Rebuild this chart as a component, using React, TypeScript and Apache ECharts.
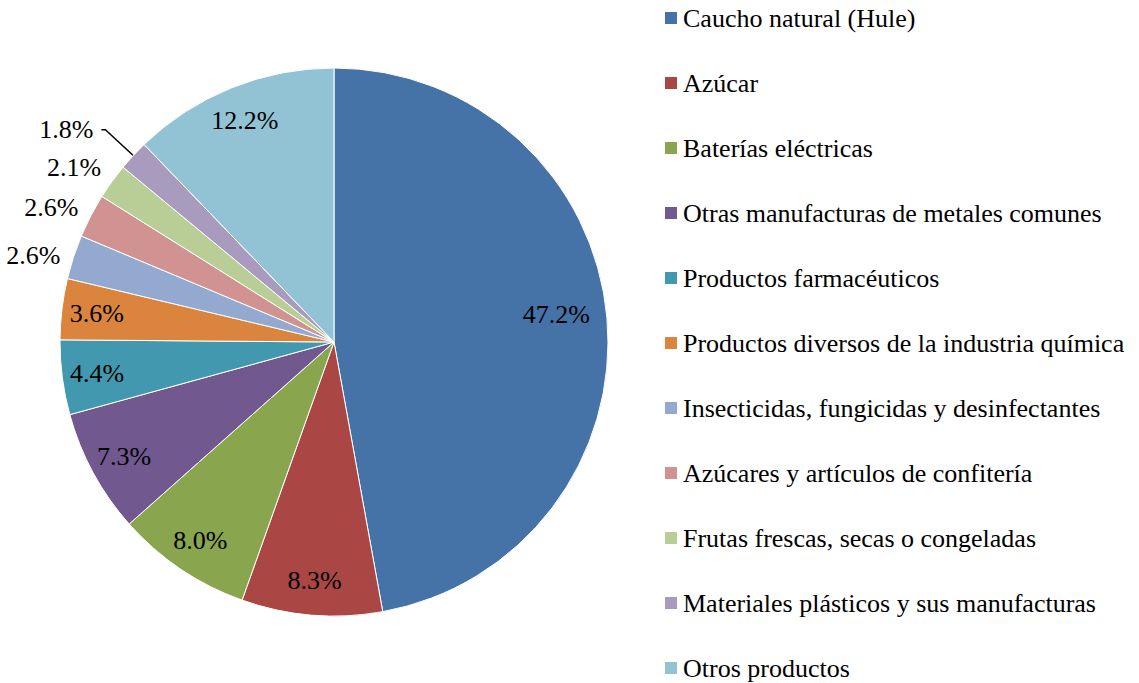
import React, { useEffect, useRef } from "react";
import * as echarts from "echarts";

const categories = [
  "Caucho natural (Hule)",
  "Azúcar",
  "Baterías eléctricas",
  "Otras manufacturas de metales comunes",
  "Productos farmacéuticos",
  "Productos diversos de la industria química",
  "Insecticidas, fungicidas y desinfectantes",
  "Azúcares y artículos de confitería",
  "Frutas frescas, secas o congeladas",
  "Materiales plásticos y sus manufacturas",
  "Otros productos",
];
const values = [47.2, 8.3, 8.0, 7.3, 4.4, 3.6, 2.6, 2.6, 2.1, 1.8, 12.2];
const colors = [
  "#4572A7", "#AA4643", "#89A54E", "#71588F", "#4198AF", "#DB843D",
  "#93A9CF", "#D19392", "#B9CD96", "#A99BBD", "#92C3D5",
];
// which label ring each slice's percentage is drawn on
const labelRing = ["inner", "mid", "mid", "mid", "mid", "mid", "outer", "outer", "outer", "line", "mid"];

const FONT = "Times New Roman";
const CX = 334;
const CY = 342;
const R = 274;

export default function App() {
  const ref = useRef<HTMLDivElement>(null);
  useEffect(() => {
    document.body.style.margin = "0";
    const chart = echarts.init(ref.current!, null, { renderer: "svg" });
    const fmt = (p: any) => Number(p.value).toFixed(1) + "%";
    const labelSeries = (ring: string, radius: number, start: number) => ({
      type: "pie",
      silent: true,
      center: [CX, CY],
      radius: [0, radius],
      startAngle: start,
      clockwise: true,
      itemStyle: { color: "transparent", borderWidth: 0 },
      emphasis: { disabled: true },
      labelLine: { show: false },
      data: categories.map((c, i) => ({
        name: c,
        value: values[i],
        label: {
          show: labelRing[i] === ring,
          position: "inside",
          formatter: fmt,
          fontFamily: FONT,
          fontSize: 26,
          color: "#000",
        },
      })),
    });
    chart.setOption({
      animation: false,
      backgroundColor: "#fff",
      color: colors,
      textStyle: { fontFamily: FONT },
      legend: {
        orient: "vertical",
        left: 663,
        top: 5,
        height: 678,
        padding: 0,
        icon: "rect",
        itemWidth: 14,
        itemHeight: 14,
        itemGap: 39,
        data: categories,
        textStyle: { fontFamily: FONT, fontSize: 26, color: "#000" },
      },
      series: [
        {
          type: "pie",
          center: [CX, CY],
          radius: [0, R],
          startAngle: 90,
          clockwise: true,
          avoidLabelOverlap: false,
          itemStyle: { borderColor: "#fff", borderWidth: 1 },
          emphasis: { disabled: true },
          data: categories.map((c, i) => ({
            name: c,
            value: values[i],
            label: {
              show: labelRing[i] === "line",
              position: "outside",
              formatter: fmt,
              fontFamily: FONT,
              fontSize: 26,
              color: "#000",
              distanceToLabelLine: 8,
            },
            labelLine: {
              show: labelRing[i] === "line",
              length: 38,
              length2: 4,
              smooth: false,
              lineStyle: { color: "#000", width: 1.5 },
            },
          })),
        },
        labelSeries("inner", 442, 92),
        labelSeries("mid", 472, 90),
        labelSeries("outer", 620, 92),
      ],
    });
    return () => chart.dispose();
  }, []);
  return <div ref={ref} style={{ width: 1139, height: 683 }} />;
}
